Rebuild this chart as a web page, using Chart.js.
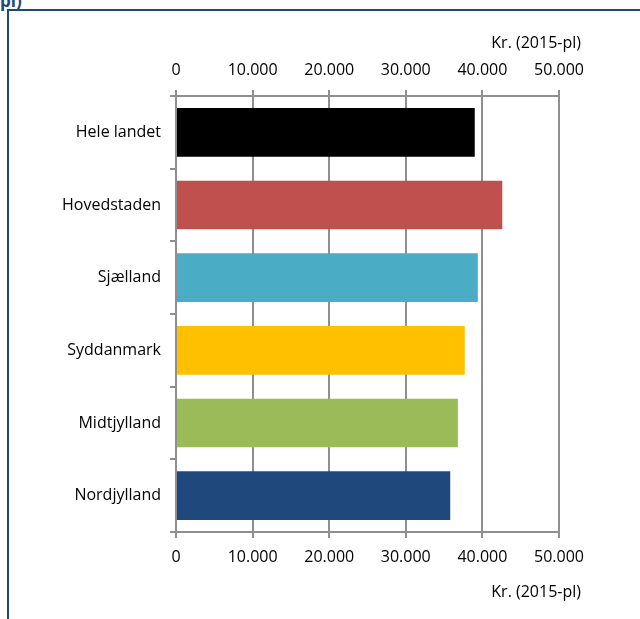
<!DOCTYPE html>
<html>
<head>
<meta charset="utf-8">
<script src="https://cdn.jsdelivr.net/npm/chart.js@4.4.0/dist/chart.umd.min.js"></script>
<style>
  html, body { margin: 0; padding: 0; background: #fff; }
  #wrap { position: relative; width: 640px; height: 619px; overflow: hidden; }
  #frame { position: absolute; left: 7px; top: 9px; right: -10px; bottom: -10px;
           border-top: 2px solid #1f497d; border-left: 2px solid #1f497d; }
  #cut { position: absolute; left: 0px; top: -11px; font: bold 17px "Open Sans", sans-serif; color: #1f497d; }
  canvas { position: absolute; left: 0; top: 0; }
</style>
</head>
<body>
<div id="wrap">
  <div id="frame"></div>
  <div id="cut">pl)</div>
  <canvas id="chart" width="640" height="619"></canvas>
</div>
<script>
document.addEventListener("DOMContentLoaded", () => {

    // data
    const regioner = ['Hele landet', 'Hovedstaden', 'Sjælland', 'Syddanmark', 'Midtjylland', 'Nordjylland'];
    const beloeb = [39000, 42600, 39400, 37700, 36800, 35800];
    const farver = ['#000000', '#c0504d', '#4bacc6', '#ffc000', '#9bbb59', '#1f497d'];
    const enhed = 'Kr. (2015-pl)';

    const font = { family: '"Open Sans", sans-serif', size: 16 };
    const grid = '#8f8f8f';

    // dansk tusindtalsseparator
    const fmt = v => String(v).replace(/\B(?=(\d{3})+(?!\d))/g, '.');

    // aksetitler til hoejre for akserne
    const titler = {
        id: 'titler',
        afterDraw(chart) {
            const c = chart.ctx;
            const a = chart.chartArea;
            c.save();
            c.font = '16px "Open Sans", sans-serif';
            c.fillStyle = '#000';
            c.textAlign = 'right';
            c.textBaseline = 'middle';
            c.fillText(enhed, a.right + 22, 43);
            c.fillText(enhed, a.right + 22, 592);
            c.restore();
        }
    };

    const xAkse = (pos, hoejde) => ({
        type: 'linear',
        position: pos,
        min: 0,
        max: 50000,
        afterFit: s => { s.height = hoejde; },
        afterBuildTicks: s => { s.ticks = [0, 10000, 20000, 30000, 40000, 50000].map(v => ({ value: v })); },
        ticks: { color: '#000', font: font, padding: 10, callback: v => fmt(v) },
        grid: { color: grid, lineWidth: 2, tickLength: 6, drawOnChartArea: pos === 'top' },
        border: { color: grid, width: 2 }
    });

    new Chart(document.getElementById('chart'), {
        type: 'bar',
        data: {
            labels: regioner,
            datasets: [{
                data: beloeb,
                backgroundColor: farver,
                borderWidth: 0,
                barPercentage: 0.67,
                categoryPercentage: 1
            }]
        },
        options: {
            indexAxis: 'y',
            responsive: false,
            animation: false,
            layout: { padding: { left: 0, right: 81, top: 0, bottom: 0 } },
            plugins: { legend: { display: false }, tooltip: { enabled: false } },
            scales: {
                x: xAkse('top', 96),
                x2: xAkse('bottom', 87),
                y: {
                    afterFit: s => { s.width = 176; },
                    offset: true,
                    ticks: { color: '#000', font: font, padding: 9 },
                    grid: { offset: true, drawOnChartArea: false, color: grid, lineWidth: 2, tickLength: 6 },
                    border: { color: grid, width: 2 }
                }
            }
        },
        plugins: [titler]
    });
});
</script>
</body>
</html>
